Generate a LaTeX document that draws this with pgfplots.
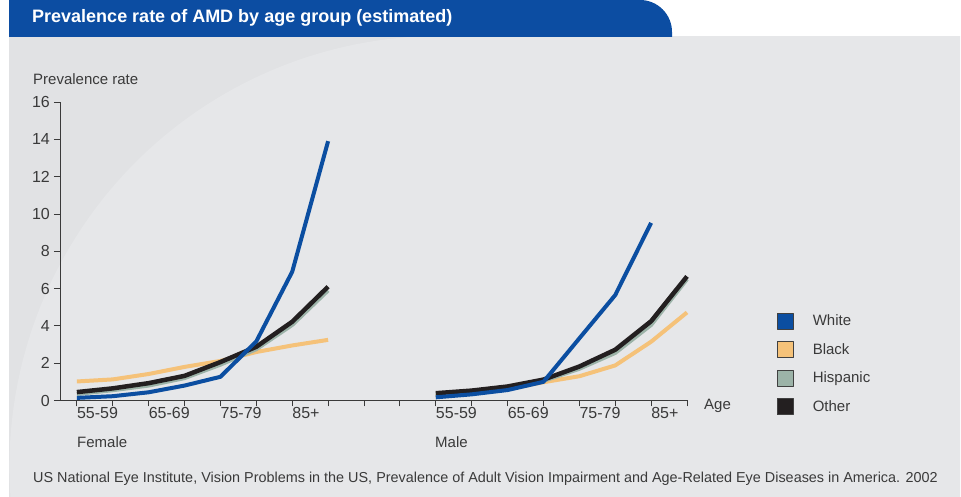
\documentclass[border=0pt]{standalone}
\usepackage{fontspec}
\setmainfont{Liberation Sans}
\usepackage{pgfplots}
\pgfplotsset{compat=1.18}
\usepackage{pgfplotstable}

\definecolor{titleblue}{HTML}{0C4DA2}
\definecolor{panel}{HTML}{E1E2E4}
\definecolor{panellight}{HTML}{E6E7E9}
\definecolor{txt}{HTML}{3A3A3A}
\definecolor{cWhite}{HTML}{0B4EA1}
\definecolor{cBlack}{HTML}{F5C279}
\definecolor{cHisp}{HTML}{9CB3A8}
\definecolor{cOther}{HTML}{231F20}

% prevalence rate, female (ticks 0-7) and male (ticks 10-17)
\pgfplotstableread{
pos white black hispanic other
0  0.14  1.02 0.35 0.45
1  0.23  1.13 0.55 0.65
2  0.44  1.42 0.80 0.93
3  0.80  1.80 1.20 1.32
4  1.27  2.12 1.92 2.06
5  3.17  2.60 2.75 2.88
6  6.90  2.95 4.05 4.22
7  13.90 3.25 5.90 6.10
}\femaletab

\pgfplotstableread{
pos white black hispanic other
10 0.17 0.22 0.30 0.39
11 0.33 0.36 0.45 0.53
12 0.56 0.62 0.68 0.75
13 1.00 0.98 1.05 1.12
14 3.33 1.30 1.70 1.82
15 5.65 1.88 2.55 2.72
16 9.52 3.15 4.05 4.25
17 nan  4.72 6.50 6.65
}\maletab

\pgfplotsset{sq/.style={legend image code/.code={\draw[fill=#1,draw=black!75,line width=0.6pt] (0pt,-8pt) rectangle (16pt,8pt);}}}

\begin{document}
\begin{tikzpicture}[x=1pt,y=1pt]
\useasboundingbox (0,0) rectangle (961,497);
\fill[white] (0,0) rectangle (961,497);
% panel with the lighter arc
\begin{scope}
  \clip (9,0) rectangle (960,460);
  \fill[panel] (9,0) rectangle (960,460);
  \fill[panellight] (10.5,0) arc[start angle=184, end angle=90, radius=431] -- (961,461) -- (961,0) -- cycle;
\end{scope}
% title bar
\fill[titleblue] (9,460) -- (9,497) -- (640,497) arc[start angle=90, end angle=0, radius=32] -- (672,460) -- cycle;
\node[anchor=west, text=white, font=\fontsize{18}{21}\selectfont\bfseries, inner sep=0pt] at (32,479.5) {Prevalence rate of AMD by age group (estimated)};

\node[anchor=west, text=txt, font=\fontsize{15}{18}\selectfont, inner sep=0pt] at (33,418) {Prevalence rate};
\node[anchor=west, text=txt, font=\fontsize{15}{18}\selectfont, inner sep=0pt] at (77,55) {Female};
\node[anchor=west, text=txt, font=\fontsize{15}{18}\selectfont, inner sep=0pt] at (435,55) {Male};
\node[anchor=west, text=txt, font=\fontsize{15}{18}\selectfont, inner sep=0pt] at (704,91) {Age};
\node[anchor=west, text=txt, font=\fontsize{14.4}{17}\selectfont, inner sep=0pt] at (33,18) {US National Eye Institute, Vision Problems in the US, Prevalence of Adult Vision Impairment and Age-Related Eye Diseases in America. 2002};

\begin{axis}[
  at={(60pt,96.5pt)}, anchor=south west,
  scale only axis, width=627pt, height=298.5pt,
  xmin=-0.47, xmax=17, ymin=0, ymax=16,
  axis x line*=bottom, axis y line*=left,
  axis line style={txt, line width=0.9pt, -},
  tick align=outside, major tick length=6pt,
  tick style={txt, line width=0.8pt},
  ytick={0,2,...,16},
  xtick={0,...,17},
  xticklabels={55-59,{},65-69,{},75-79,{},85+,{},{},{},55-59,{},65-69,{},75-79,{},85+,{}},
  /pgf/number format/assume math mode=true,
  tick label style={text=txt, font=\fontsize{16}{19}\selectfont},
  xticklabel style={anchor=north west, inner sep=0pt, yshift=-1pt},
  yticklabel style={anchor=east, inner sep=0pt, xshift=-4pt},
  clip=false,
  legend cell align=left,
  legend style={at={(1.1435,0.2948)}, anchor=north west, draw=none, fill=none,
    inner sep=0pt, row sep=12pt, column sep=19pt,
    nodes={inner sep=0pt, text=txt, font=\fontsize{15}{18}\selectfont}},
  every axis plot/.append style={line join=round, line width=4pt},
]
\addlegendimage{sq=cWhite}
\addlegendimage{sq=cBlack}
\addlegendimage{sq=cHisp}
\addlegendimage{sq=cOther}
\legend{White,Black,Hispanic,Other}

\addplot[cBlack, forget plot] table[x=pos,y=black]{\femaletab};
\addplot[cHisp, forget plot] table[x=pos,y=hispanic]{\femaletab};
\addplot[cOther, forget plot, line width=4.5pt] table[x=pos,y=other]{\femaletab};
\addplot[cWhite, forget plot] table[x=pos,y=white]{\femaletab};

\addplot[cBlack, forget plot] table[x=pos,y=black]{\maletab};
\addplot[cHisp, forget plot] table[x=pos,y=hispanic]{\maletab};
\addplot[cOther, forget plot, line width=4.5pt] table[x=pos,y=other]{\maletab};
\addplot[cWhite, forget plot] table[x=pos,y=white]{\maletab};
\end{axis}
\end{tikzpicture}
\end{document}
